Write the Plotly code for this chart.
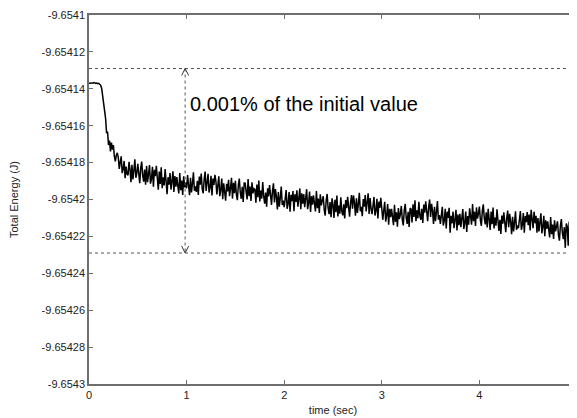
import plotly.graph_objects as go

# ---- data ----
TIME_STEP = 0.01  # seconds between samples
ENERGY = [
    -9.6541370, -9.6541369, -9.6541367, -9.6541368, -9.6541370, -9.6541366, -9.6541368, -9.6541371, -9.6541369, -9.6541372,
    -9.6541370, -9.6541374, -9.6541381, -9.6541398, -9.6541440, -9.6541476, -9.6541535, -9.6541560, -9.6541640, -9.6541632,
    -9.6541705, -9.6541681, -9.6541739, -9.6541691, -9.6541730, -9.6541705, -9.6541767, -9.6541793, -9.6541760, -9.6541747,
    -9.6541771, -9.6541834, -9.6541799, -9.6541766, -9.6541857, -9.6541835, -9.6541791, -9.6541885, -9.6541821, -9.6541863,
    -9.6541868, -9.6541796, -9.6541836, -9.6541906, -9.6541812, -9.6541891, -9.6541842, -9.6541782, -9.6541882, -9.6541858,
    -9.6541806, -9.6541880, -9.6541911, -9.6541830, -9.6541794, -9.6541869, -9.6541903, -9.6541838, -9.6541920, -9.6541818,
    -9.6541906, -9.6541862, -9.6541813, -9.6541914, -9.6541888, -9.6541823, -9.6541930, -9.6541839, -9.6541873, -9.6541818,
    -9.6541874, -9.6541947, -9.6541848, -9.6541916, -9.6541826, -9.6541939, -9.6541880, -9.6541924, -9.6541835, -9.6541911,
    -9.6541971, -9.6541879, -9.6541920, -9.6541857, -9.6541946, -9.6541902, -9.6541847, -9.6541959, -9.6541873, -9.6541930,
    -9.6541879, -9.6541926, -9.6541967, -9.6541856, -9.6541949, -9.6541897, -9.6541975, -9.6541874, -9.6541934, -9.6541908,
    -9.6541939, -9.6541867, -9.6541907, -9.6541977, -9.6541883, -9.6541962, -9.6541913, -9.6541853, -9.6541953, -9.6541929,
    -9.6541959, -9.6541899, -9.6541976, -9.6541876, -9.6541920, -9.6541859, -9.6541942, -9.6541966, -9.6541890, -9.6541849,
    -9.6541954, -9.6541910, -9.6541861, -9.6541962, -9.6541936, -9.6541871, -9.6541978, -9.6541887, -9.6541921, -9.6541866,
    -9.6541900, -9.6541972, -9.6541922, -9.6541874, -9.6541982, -9.6541948, -9.6541887, -9.6541998, -9.6541912, -9.6541958,
    -9.6542007, -9.6541915, -9.6541956, -9.6541893, -9.6541982, -9.6541938, -9.6541883, -9.6541995, -9.6541909, -9.6541966,
    -9.6541899, -9.6541973, -9.6542004, -9.6541923, -9.6541887, -9.6541962, -9.6541996, -9.6541931, -9.6542013, -9.6541911,
    -9.6541912, -9.6541959, -9.6542000, -9.6541889, -9.6541982, -9.6541930, -9.6542008, -9.6541907, -9.6541967, -9.6541941,
    -9.6541945, -9.6542018, -9.6541919, -9.6541987, -9.6541897, -9.6542010, -9.6541951, -9.6541995, -9.6541906, -9.6541982,
    -9.6542022, -9.6541962, -9.6542039, -9.6541939, -9.6541983, -9.6541922, -9.6542005, -9.6542029, -9.6541953, -9.6541912,
    -9.6542016, -9.6541944, -9.6541984, -9.6542054, -9.6541960, -9.6542039, -9.6541990, -9.6541930, -9.6542030, -9.6542006,
    -9.6542042, -9.6541998, -9.6541949, -9.6542050, -9.6542024, -9.6541959, -9.6542066, -9.6541975, -9.6542009, -9.6541954,
    -9.6542064, -9.6541972, -9.6542013, -9.6541950, -9.6542039, -9.6541995, -9.6541940, -9.6542052, -9.6541966, -9.6542023,
    -9.6541970, -9.6542042, -9.6541992, -9.6541944, -9.6542052, -9.6542018, -9.6541957, -9.6542068, -9.6541982, -9.6542028,
    -9.6541977, -9.6542024, -9.6542065, -9.6541954, -9.6542047, -9.6541995, -9.6542073, -9.6541972, -9.6542032, -9.6542006,
    -9.6541982, -9.6542056, -9.6542087, -9.6542006, -9.6541970, -9.6542045, -9.6542079, -9.6542014, -9.6542096, -9.6541994,
    -9.6542027, -9.6542100, -9.6542001, -9.6542069, -9.6541979, -9.6542092, -9.6542033, -9.6542077, -9.6541988, -9.6542064,
    -9.6542086, -9.6542026, -9.6542103, -9.6542003, -9.6542047, -9.6541986, -9.6542069, -9.6542093, -9.6542017, -9.6541976,
    -9.6542050, -9.6541978, -9.6542018, -9.6542088, -9.6541994, -9.6542073, -9.6542024, -9.6541964, -9.6542064, -9.6542040,
    -9.6542090, -9.6541998, -9.6542039, -9.6541976, -9.6542065, -9.6542021, -9.6541966, -9.6542078, -9.6541992, -9.6542049,
    -9.6542079, -9.6542035, -9.6541986, -9.6542087, -9.6542061, -9.6541996, -9.6542103, -9.6542012, -9.6542046, -9.6541991,
    -9.6542038, -9.6542110, -9.6542060, -9.6542012, -9.6542120, -9.6542086, -9.6542025, -9.6542136, -9.6542050, -9.6542096,
    -9.6542051, -9.6542098, -9.6542139, -9.6542028, -9.6542121, -9.6542069, -9.6542147, -9.6542046, -9.6542106, -9.6542080,
    -9.6542035, -9.6542109, -9.6542140, -9.6542059, -9.6542023, -9.6542098, -9.6542132, -9.6542067, -9.6542149, -9.6542047,
    -9.6542052, -9.6542125, -9.6542026, -9.6542094, -9.6542004, -9.6542117, -9.6542058, -9.6542102, -9.6542013, -9.6542089,
    -9.6542110, -9.6542050, -9.6542127, -9.6542027, -9.6542071, -9.6542010, -9.6542093, -9.6542117, -9.6542041, -9.6542000,
    -9.6542095, -9.6542023, -9.6542063, -9.6542133, -9.6542039, -9.6542118, -9.6542069, -9.6542009, -9.6542109, -9.6542085,
    -9.6542133, -9.6542089, -9.6542040, -9.6542141, -9.6542115, -9.6542050, -9.6542157, -9.6542066, -9.6542100, -9.6542045,
    -9.6542180, -9.6542088, -9.6542129, -9.6542066, -9.6542155, -9.6542111, -9.6542056, -9.6542168, -9.6542082, -9.6542139,
    -9.6542078, -9.6542150, -9.6542100, -9.6542052, -9.6542160, -9.6542126, -9.6542065, -9.6542176, -9.6542090, -9.6542136,
    -9.6542048, -9.6542095, -9.6542136, -9.6542025, -9.6542118, -9.6542066, -9.6542144, -9.6542043, -9.6542103, -9.6542077,
    -9.6542038, -9.6542112, -9.6542143, -9.6542062, -9.6542026, -9.6542101, -9.6542135, -9.6542070, -9.6542152, -9.6542050,
    -9.6542092, -9.6542165, -9.6542066, -9.6542134, -9.6542044, -9.6542157, -9.6542098, -9.6542142, -9.6542053, -9.6542129,
    -9.6542170, -9.6542110, -9.6542187, -9.6542087, -9.6542131, -9.6542070, -9.6542153, -9.6542177, -9.6542101, -9.6542060,
    -9.6542150, -9.6542078, -9.6542118, -9.6542188, -9.6542094, -9.6542173, -9.6542124, -9.6542064, -9.6542164, -9.6542140,
    -9.6542156, -9.6542112, -9.6542063, -9.6542164, -9.6542138, -9.6542073, -9.6542180, -9.6542089, -9.6542123, -9.6542068,
    -9.6542139, -9.6542082, -9.6542168, -9.6542056, -9.6542111, -9.6542155, -9.6542066, -9.6542129, -9.6542088, -9.6542180,
    -9.6542101, -9.6542173, -9.6542123, -9.6542075, -9.6542183, -9.6542149, -9.6542088, -9.6542199, -9.6542113, -9.6542159,
    -9.6542118, -9.6542165, -9.6542206, -9.6542095, -9.6542188, -9.6542136, -9.6542214, -9.6542113, -9.6542173, -9.6542147,
    -9.6542118, -9.6542192, -9.6542223, -9.6542142, -9.6542106, -9.6542181, -9.6542215, -9.6542150, -9.6542262, -9.6542130,
    -9.6542146, -9.6542250, -9.6542120, -9.6542188, -9.6542098, -9.6542211, -9.6542152, -9.6542196, -9.6542107, -9.6542183,
    -9.6542165,
]
TIME = [round(i * TIME_STEP, 2) for i in range(len(ENERGY))]

UPPER_BOUND = -9.654129   # dotted reference line (top)
LOWER_BOUND = -9.654229   # dotted reference line (bottom)
ARROW_X = 0.985
LABEL_Y = -9.654148
ANNOTATION_TEXT = "0.001% of the initial value"

Y_TICK_VALUES = [-9.6541, -9.65412, -9.65414, -9.65416, -9.65418, -9.6542,
                 -9.65422, -9.65424, -9.65426, -9.65428, -9.6543]
Y_TICK_LABELS = ["-9.6541", "-9.65412", "-9.65414", "-9.65416", "-9.65418", "-9.6542",
                 "-9.65422", "-9.65424", "-9.65426", "-9.65428", "-9.6543"]
X_TICK_VALUES = [0, 1, 2, 3, 4, 5]
X_TICK_LABELS = ["0", "1", "2", "3", "4", "5"]

FONT = "Arial, Liberation Sans, sans-serif"
AXIS_COLOR = "#6e6e6e"
DOT_COLOR = "#555555"

fig = go.Figure()
fig.add_trace(go.Scatter(
    x=TIME, y=ENERGY, mode="lines",
    line=dict(color="black", width=1.5),
    showlegend=False, hoverinfo="skip",
))

# dotted horizontal bounds
for yv in (UPPER_BOUND, LOWER_BOUND):
    fig.add_shape(type="line", xref="paper", yref="y", x0=0, x1=1, y0=yv, y1=yv,
                  line=dict(color=DOT_COLOR, width=1, dash="dot"), layer="above")

# dotted vertical arrow shaft
fig.add_shape(type="line", xref="x", yref="y", x0=ARROW_X, x1=ARROW_X,
              y0=UPPER_BOUND, y1=LOWER_BOUND,
              line=dict(color=DOT_COLOR, width=1, dash="dot"))

# open chevron arrowheads (pixel-sized)
fig.add_shape(type="path", xref="x", yref="y",
              xsizemode="pixel", ysizemode="pixel",
              xanchor=ARROW_X, yanchor=UPPER_BOUND,
              path="M-3.5,-7 L0,0 L3.5,-7",
              line=dict(color="#333333", width=1))
fig.add_shape(type="path", xref="x", yref="y",
              xsizemode="pixel", ysizemode="pixel",
              xanchor=ARROW_X, yanchor=LOWER_BOUND,
              path="M-3.5,7 L0,0 L3.5,7",
              line=dict(color="#333333", width=1))

fig.add_annotation(x=ARROW_X, y=LABEL_Y,
                   xref="x", yref="y", xanchor="left", yanchor="middle",
                   xshift=3, showarrow=False, text=ANNOTATION_TEXT,
                   font=dict(family=FONT, size=20, color="black"))

fig.update_layout(
    width=569, height=410,
    margin=dict(l=81, r=0, t=7, b=34, autoexpand=False),
    paper_bgcolor="white", plot_bgcolor="white",
    font=dict(family=FONT, size=11, color="#222222"),
)
fig.update_xaxes(
    range=[0, 5], tickvals=X_TICK_VALUES, ticktext=X_TICK_LABELS,
    ticks="inside", ticklen=4, tickcolor=AXIS_COLOR, tickwidth=1,
    showline=True, linecolor=AXIS_COLOR, linewidth=1.5, mirror="ticks",
    showgrid=False, zeroline=False,
    title=dict(text="time (sec)", font=dict(size=11), standoff=6),
    tickfont=dict(size=11), automargin=False,
)
fig.update_yaxes(
    range=[-9.6543, -9.6541], tickvals=Y_TICK_VALUES, ticktext=Y_TICK_LABELS,
    ticks="inside", ticklen=4, tickcolor=AXIS_COLOR, tickwidth=1,
    showline=True, linecolor=AXIS_COLOR, linewidth=1.5, mirror="ticks",
    showgrid=False, zeroline=False,
    title=dict(text="Total Energy (J)", font=dict(size=11), standoff=24),
    tickfont=dict(size=11), automargin=False,
)

fig.write_html("out.html")
